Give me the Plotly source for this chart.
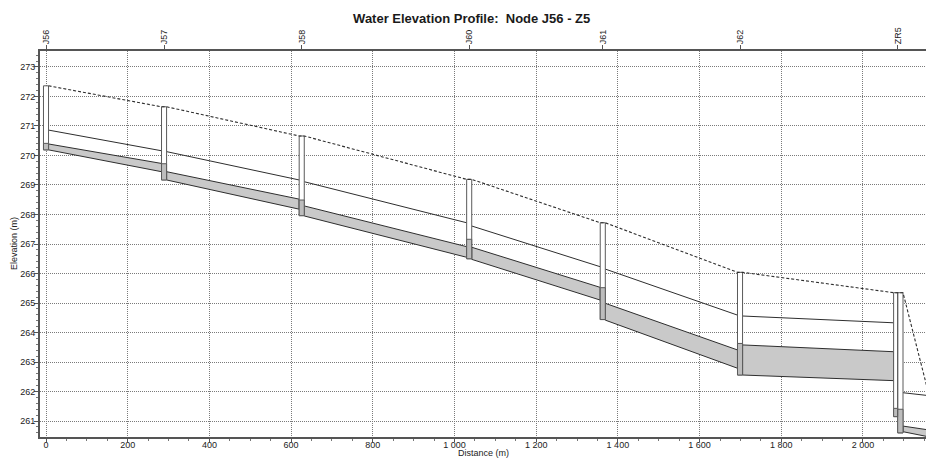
import plotly.graph_objects as go

# ---------------- data ----------------
TITLE = "Water Elevation Profile:\u00a0 Node J56 - Z5"

NODES      = ["J56", "J57", "J58", "J60", "J61", "J62", "ZR5", "Z5"]
NODE_DIST  = [0, 289, 626, 1036, 1363, 1699, 2085, 2162]
GROUND     = [272.36, 271.65, 270.66, 269.19, 267.72, 266.04, 265.35, 262.20]
INVERT_IN  = [270.19, 269.17, 267.96, 266.50, 264.44, 262.56, 261.15, 260.30]
INVERT_OUT = [270.19, 269.17, 267.96, 266.50, 264.44, 262.56, 260.60, 260.30]
WATER_IN   = [270.41, 269.72, 268.49, 267.16, 265.52, 263.63, 261.43, 260.90]
WATER_OUT  = [270.41, 269.72, 268.49, 267.16, 265.52, 263.63, 261.40, 260.90]

LINK_FROM = [0, 1, 2, 3, 4, 5, 6]
LINK_TO   = [1, 2, 3, 4, 5, 6, 7]
CROWN_UP  = [270.86, 270.13, 269.11, 267.61, 266.15, 264.56, 261.96]
CROWN_DN  = [270.16, 269.17, 267.72, 266.23, 264.59, 264.33, 261.87]
WATER_UP  = [270.39, 269.45, 268.29, 266.89, 264.99, 263.58, 260.83]
WATER_DN  = [269.73, 268.52, 266.91, 265.53, 263.41, 263.35, 260.71]
INV_UP    = [270.19, 269.17, 267.95, 266.48, 264.42, 262.56, 260.64]
INV_DN    = [269.45, 268.18, 266.55, 265.10, 262.79, 262.37, 260.48]

X_TICKS = [0, 200, 400, 600, 800, 1000, 1200, 1400, 1600, 1800, 2000]
X_TICK_LABELS = ["0", "200", "400", "600", "800", "1 000", "1 200", "1 400",
                 "1 600", "1 800", "2 000"]
Y_TICKS = [261, 262, 263, 264, 265, 266, 267, 268, 269, 270, 271, 272, 273]

# ---------------- styling ----------------
FONT = "Liberation Sans, Arial, sans-serif"
HW = 6.2                      # manhole half width (m)
SPLIT_HW = (10.0, 13.0)       # left/right chamber widths for split nodes
X_RANGE = [-14.7, 2154.3]
Y_RANGE = [260.46, 273.54]
LINE_C = "#2e2e2e"
BAND_C = "#c9c9c9"
MH_LINE = "#5a5a5a"
MH_WATER = "#bdbdbd"


def edges(i):
    if INVERT_IN[i] != INVERT_OUT[i]:
        return NODE_DIST[i] - SPLIT_HW[0], NODE_DIST[i] + SPLIT_HW[1]
    return NODE_DIST[i] - HW, NODE_DIST[i] + HW


def rect(x0, x1, y0, y1):
    return [x0, x1, x1, x0, x0, None], [y0, y0, y1, y1, y0, None]


# pipes
band_x, band_y, crown_x, crown_y = [], [], [], []
for k in range(len(LINK_FROM)):
    xu = edges(LINK_FROM[k])[1]
    xd = edges(LINK_TO[k])[0]
    band_x += [xu, xd, xd, xu, xu, None]
    band_y += [WATER_UP[k], WATER_DN[k], INV_DN[k], INV_UP[k], WATER_UP[k], None]
    crown_x += [xu, xd, None]
    crown_y += [CROWN_UP[k], CROWN_DN[k], None]

# manholes
mh_x, mh_y, mw_x, mw_y = [], [], [], []
for i in range(len(NODES)):
    l, r = edges(i)
    c = NODE_DIST[i]
    if INVERT_IN[i] != INVERT_OUT[i]:
        parts = [(l, c, INVERT_IN[i], WATER_IN[i]), (c, r, INVERT_OUT[i], WATER_OUT[i])]
    else:
        parts = [(l, r, INVERT_IN[i], WATER_IN[i])]
    for (a, b, inv, wat) in parts:
        px, py = rect(a, b, inv, GROUND[i])
        mh_x += px; mh_y += py
        px, py = rect(a, b, inv, wat)
        mw_x += px; mw_y += py

# ground (dashed) line between manhole tops
gx, gy = [], []
for i in range(len(NODES)):
    l, r = edges(i)
    gx += [l, r] if i > 0 else [r]
    gy += [GROUND[i], GROUND[i]] if i > 0 else [GROUND[i]]

fig = go.Figure()
fig.add_trace(go.Scatter(x=band_x, y=band_y, mode="lines", fill="toself",
                         fillcolor=BAND_C, line=dict(color=LINE_C, width=1),
                         hoverinfo="skip", showlegend=False))
fig.add_trace(go.Scatter(x=crown_x, y=crown_y, mode="lines",
                         line=dict(color=LINE_C, width=1),
                         hoverinfo="skip", showlegend=False))
fig.add_trace(go.Scatter(x=mh_x, y=mh_y, mode="lines", fill="toself",
                         fillcolor="white", line=dict(color=MH_LINE, width=1),
                         hoverinfo="skip", showlegend=False))
fig.add_trace(go.Scatter(x=mw_x, y=mw_y, mode="lines", fill="toself",
                         fillcolor=MH_WATER, line=dict(color=MH_LINE, width=1),
                         hoverinfo="skip", showlegend=False))
fig.add_trace(go.Scatter(x=gx, y=gy, mode="lines",
                         line=dict(color=LINE_C, width=1.1, dash="3px,2px"),
                         hoverinfo="skip", showlegend=False))
fig.add_trace(go.Scatter(x=NODE_DIST, y=GROUND, xaxis="x2", mode="markers",
                         marker=dict(opacity=0), hoverinfo="skip", showlegend=False))

tickfont = dict(family=FONT, size=9, color="#222")
grid = dict(showgrid=True, gridcolor="#7a7a7a", griddash="1px,1px", gridwidth=1)

fig.update_layout(
    width=926, height=458,
    margin=dict(l=40, r=0, t=51, b=21),
    paper_bgcolor="white", plot_bgcolor="white",
    title=dict(text="<b>" + TITLE + "</b>", x=471.7 / 926, xref="container",
               xanchor="center", y=1 - 18.5 / 458, yanchor="middle",
               font=dict(family=FONT, size=13, color="#1a1a1a")),
    xaxis=dict(range=X_RANGE, tickvals=X_TICKS, ticktext=X_TICK_LABELS,
               tickfont=tickfont, ticks="outside", ticklen=3, tickcolor="#555",
               ticklabelstandoff=-5,
               showline=True, linecolor="#555", linewidth=2, zeroline=False,
               minor=dict(tickmode="linear", tick0=0, dtick=50, ticks="outside",
                          ticklen=2, tickcolor="#777", showgrid=False),
               **grid),
    xaxis2=dict(range=X_RANGE, overlaying="x", side="top", anchor="y",
                tickvals=NODE_DIST, ticktext=NODES, tickangle=-90,
                tickfont=tickfont, ticks="outside", ticklen=4, tickcolor="#555",
                ticklabelstandoff=-1,
                showline=True, linecolor="#555", linewidth=2, showgrid=False,
                zeroline=False),
    yaxis=dict(range=Y_RANGE, tickvals=Y_TICKS, tickfont=tickfont,
               ticks="outside", ticklen=4, tickcolor="#555",
               ticklabelstandoff=-3,
               showline=True, linecolor="#555", linewidth=2, zeroline=False,
               minor=dict(tickmode="linear", tick0=261, dtick=0.2, ticks="outside",
                          ticklen=2, tickcolor="#777", showgrid=False),
               **grid),
    annotations=[
        dict(text="Elevation (m)", xref="paper", yref="paper",
             x=(14 - 40) / 886, y=0.5, textangle=-90, showarrow=False,
             xanchor="center", yanchor="middle",
             font=dict(family=FONT, size=9, color="#222")),
        dict(text="Distance (m)", xref="paper", yref="paper",
             x=0.5, y=-16 / 386, showarrow=False, xanchor="center",
             yanchor="middle", font=dict(family=FONT, size=9, color="#222")),
    ],
)

fig.write_html("out.html")
